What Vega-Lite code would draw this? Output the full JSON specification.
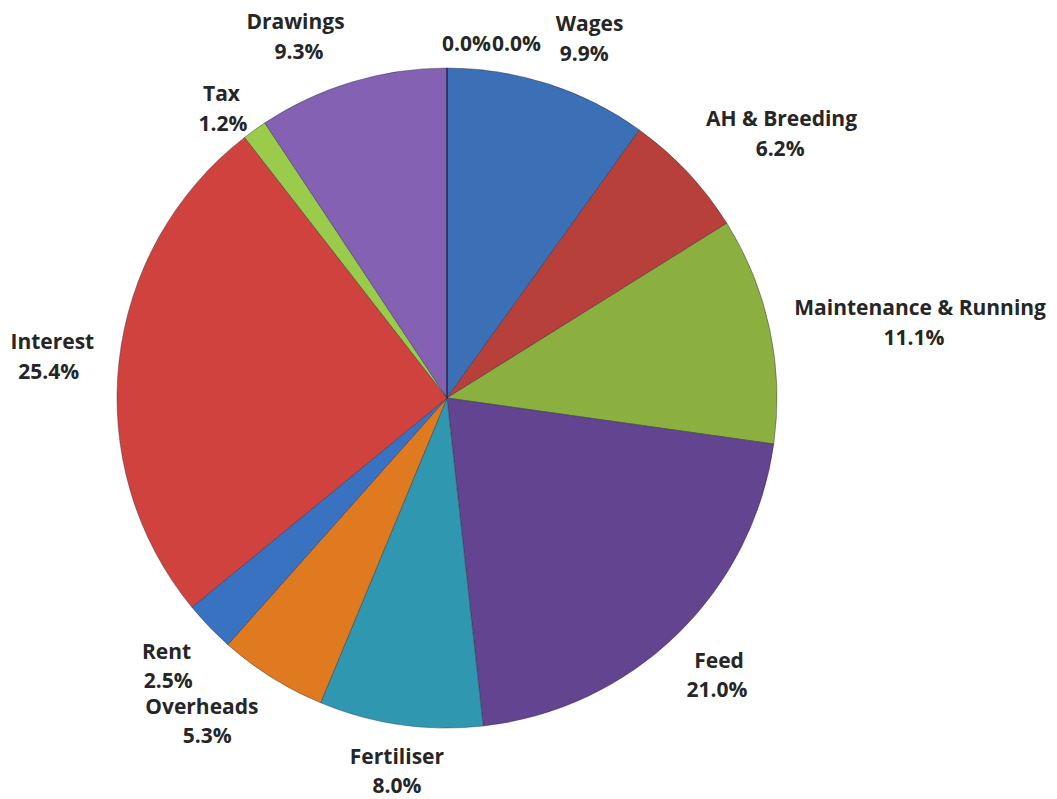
{
  "$schema": "https://vega.github.io/schema/vega-lite/v6.json",
  "width": 894,
  "height": 796,
  "autosize": {"type": "none"},
  "padding": {"left": 0, "top": 0, "right": 163, "bottom": 3},
  "background": "white",
  "data": {
    "values": [
      {"category": "Wages", "value": 9.9, "order": 1},
      {"category": "AH & Breeding", "value": 6.2, "order": 2},
      {"category": "Maintenance & Running", "value": 11.1, "order": 3},
      {"category": "Feed", "value": 21.0, "order": 4},
      {"category": "Fertiliser", "value": 8.0, "order": 5},
      {"category": "Overheads", "value": 5.3, "order": 6},
      {"category": "Rent", "value": 2.5, "order": 7},
      {"category": "Interest", "value": 25.4, "order": 8},
      {"category": "Tax", "value": 1.2, "order": 9},
      {"category": "Drawings", "value": 9.3, "order": 10},
      {"category": "(blank 1)", "value": 0.0, "order": 11},
      {"category": "(blank 2)", "value": 0.0, "order": 12}
    ]
  },
  "transform": [
    {"calculate": "datum.value > 0 ? datum.category : ''", "as": "name"},
    {"calculate": "format(datum.value, '.1f') + '%'", "as": "pct"}
  ],
  "encoding": {
    "theta": {"field": "value", "type": "quantitative", "stack": true},
    "order": {"field": "order", "type": "quantitative"}
  },
  "layer": [
    {
      "mark": {"type": "arc", "outerRadius": 330, "stroke": "#2a2a40", "strokeWidth": 0.7, "strokeOpacity": 0.6},
      "encoding": {
        "color": {
          "field": "category",
          "type": "nominal",
          "legend": null,
          "scale": {
            "domain": ["Wages", "AH & Breeding", "Maintenance & Running", "Feed", "Fertiliser", "Overheads", "Rent", "Interest", "Tax", "Drawings", "(blank 1)", "(blank 2)"],
            "range": ["#3b6fb6", "#b8403a", "#8bb03f", "#634490", "#2f98b0", "#e07a20", "#3a72c2", "#d0423e", "#9acb4a", "#8461b3", "#3b6fb6", "#b8403a"]
          }
        }
      }
    },
    {
      "mark": {
        "type": "text",
        "radius": 355,
        "font": "Open Sans",
        "fontWeight": "bold",
        "fontSize": 21,
        "color": "#262626",
        "baseline": {"expr": "(((datum.value_start + datum.value_end) / 2 < 19.5 || (datum.value_start + datum.value_end) / 2 > 91) ? 'bottom' : (((datum.value_start + datum.value_end) / 2 > 30.5 && (datum.value_start + datum.value_end) / 2 < 69.5) ? 'top' : 'middle'))"},
        "align": {"expr": "(((datum.value_start + datum.value_end) / 2 < 3 || abs((datum.value_start + datum.value_end) / 2 - 50) < 3) ? 'center' : ((datum.value_start + datum.value_end) / 2 < 50 ? 'left' : 'right'))"},
        "dy": {"expr": "(((datum.value_start + datum.value_end) / 2 < 19.5 || (datum.value_start + datum.value_end) / 2 > 91) ? -25 : (((datum.value_start + datum.value_end) / 2 > 30.5 && (datum.value_start + datum.value_end) / 2 < 69.5) ? -2 : -15))"}
      },
      "encoding": {
        "text": {"field": "name", "type": "nominal"}
      }
    },
    {
      "mark": {
        "type": "text",
        "radius": 355,
        "font": "Open Sans",
        "fontWeight": "bold",
        "fontSize": 21,
        "color": "#262626",
        "baseline": {"expr": "datum.value == 0 ? 'bottom' : (((datum.value_start + datum.value_end) / 2 < 19.5 || (datum.value_start + datum.value_end) / 2 > 91) ? 'bottom' : (((datum.value_start + datum.value_end) / 2 > 30.5 && (datum.value_start + datum.value_end) / 2 < 69.5) ? 'top' : 'middle'))"},
        "align": {"expr": "datum.value == 0 ? 'left' : 'center'"},
        "dx": {"expr": "datum.category == '(blank 1)' ? -5 : (datum.category == '(blank 2)' ? 45 : ((((datum.value_start + datum.value_end) / 2 < 3 || abs((datum.value_start + datum.value_end) / 2 - 50) < 3) ? 0 : ((datum.value_start + datum.value_end) / 2 < 50 ? 1 : -1)) * length(datum.name) * 5.7))"},
        "dy": {"expr": "datum.value == 0 ? 12 : (((datum.value_start + datum.value_end) / 2 < 19.5 || (datum.value_start + datum.value_end) / 2 > 91) ? 5 : (((datum.value_start + datum.value_end) / 2 > 30.5 && (datum.value_start + datum.value_end) / 2 < 69.5) ? 27 : 15))"}
      },
      "encoding": {
        "text": {"field": "pct", "type": "nominal"}
      }
    }
  ]
}
